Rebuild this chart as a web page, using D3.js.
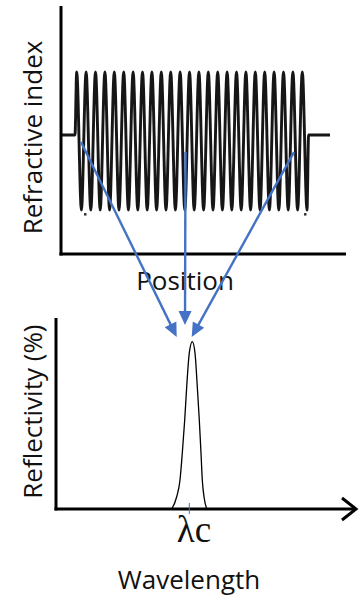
<!DOCTYPE html>
<html>
<head>
<meta charset="utf-8">
<script src="https://cdn.jsdelivr.net/npm/d3@7"></script>
<style>
  html, body { margin: 0; padding: 0; background: #fff; }
  svg { display: block; }
  text { font-family: "Open Sans", "Noto Sans", sans-serif; fill: #111; }
  text.serif { font-family: "Liberation Serif", "DejaVu Serif", serif; }
</style>
</head>
<body>
<div id="chart"></div>
<script>
// grating: turning points of the index modulation (position units, index %)
const baseLeft = [[1, 48], [14, 48]];
const peakPos = [15.7, 25.1, 34.5, 43.9, 53.3, 62.7, 72.1, 81.5, 90.9, 100.3, 109.7, 119.1, 128.5,
                 137.9, 147.3, 156.7, 166.1, 175.5, 184.9, 194.3, 203.7, 213.1, 222.5, 231.9, 241.3];
const troughPos = [20.4, 29.8, 39.2, 48.6, 58.0, 67.4, 76.8, 86.2, 95.6, 105.0, 114.4, 123.8, 133.2,
                   142.6, 152.0, 161.4, 170.8, 180.2, 189.6, 199.0, 208.4, 217.8, 227.2, 236.6, 246.0];
const indexHigh = 73.4;
const indexLow = 17.7;
const baseRight = [[247.6, 48], [269, 48]];
const endDots = [[24, 16.1], [244, 16.1]];

// reflection peak (wavelength units, reflectivity %)
const wavelength = [115.7, 120.7, 124, 126.3, 128.7, 130.7, 133.3, 136.3, 139, 141.3, 143.3, 145, 146.3, 148, 150.7];
const reflectivity = [0, 6.4, 15.2, 29.3, 46.6, 64.0, 81.7, 87.6, 81.7, 64.0, 46.6, 29.3, 15.2, 6.4, 0];
const centerWl = 133.3;

// arrows: start on the grating, end above the peak
const arrowFrom = [[20, 45.2], [124.5, 41.1], [233, 41.1]];
const arrowTo = [[120.7, 90.1], [129, 96.3], [135.7, 90.1]];

const width = 360, height = 596;
const svg = d3.select("#chart").append("svg")
    .attr("width", width)
    .attr("height", height);

const blue = "#4472c4";

svg.append("defs").append("filter").attr("id", "soft")
  .append("feGaussianBlur").attr("stdDeviation", 0.55);

// ---- top panel ----
const xTop = d3.scaleLinear().domain([0, 285]).range([61, 346]);
const yTop = d3.scaleLinear().domain([0, 100]).range([254, 6]);

const grating = baseLeft.slice();
peakPos.forEach((p, i) => {
  grating.push([p, indexHigh]);
  grating.push([troughPos[i], indexLow]);
});
baseRight.forEach(d => grating.push(d));

const gratingLine = d3.line()
    .x(d => xTop(d[0]))
    .y(d => yTop(d[1]))
    .curve(d3.curveMonotoneX);

svg.append("path")
    .datum(grating)
    .attr("d", gratingLine)
    .attr("fill", "none")
    .attr("stroke", "#161616")
    .attr("stroke-width", 2.9)
    .attr("filter", "url(#soft)");

svg.selectAll(".dot")
  .data(endDots)
  .enter().append("rect")
    .attr("x", d => xTop(d[0]) - 1)
    .attr("y", d => yTop(d[1]) - 1)
    .attr("width", 2.5).attr("height", 2.5)
    .attr("fill", "#333");

svg.append("line")
    .attr("x1", xTop(0)).attr("x2", xTop(0))
    .attr("y1", yTop(100)).attr("y2", yTop(0) + 1.5)
    .attr("stroke", "#000").attr("stroke-width", 3);
svg.append("line")
    .attr("x1", xTop(0) - 1.5).attr("x2", xTop(285))
    .attr("y1", yTop(0)).attr("y2", yTop(0))
    .attr("stroke", "#000").attr("stroke-width", 3);

svg.append("text")
    .attr("transform", "translate(42," + yTop(47) + ") rotate(-90)")
    .attr("text-anchor", "middle")
    .attr("font-size", 26)
    .text("Refractive index");

svg.append("text")
    .attr("x", 185).attr("y", 290)
    .attr("text-anchor", "middle")
    .attr("font-size", 26)
    .text("Position");

// ---- bottom panel ----
const xBot = d3.scaleLinear().domain([0, 300]).range([56, 356]);
const yBot = d3.scaleLinear().domain([0, 100]).range([509, 318]);

const peakLine = d3.line()
    .x(d => xBot(d[0]))
    .y(d => yBot(d[1]))
    .curve(d3.curveMonotoneX);

svg.append("path")
    .datum(wavelength.map((w, i) => [w, reflectivity[i]]))
    .attr("d", peakLine)
    .attr("fill", "none")
    .attr("stroke", "#000")
    .attr("stroke-width", 1.3);

svg.append("line")
    .attr("x1", xBot(0)).attr("x2", xBot(0))
    .attr("y1", yBot(100)).attr("y2", yBot(0) + 1.5)
    .attr("stroke", "#000").attr("stroke-width", 3);
svg.append("line")
    .attr("x1", xBot(0) - 1.5).attr("x2", xBot(300))
    .attr("y1", yBot(0)).attr("y2", yBot(0))
    .attr("stroke", "#000").attr("stroke-width", 3);
svg.append("path")
    .attr("d", "M" + (xBot(300) - 14) + "," + (yBot(0) - 11) +
               "L" + xBot(300) + "," + yBot(0) +
               "L" + (xBot(300) - 14) + "," + (yBot(0) + 11))
    .attr("fill", "none")
    .attr("stroke", "#000").attr("stroke-width", 3);

svg.append("line")
    .attr("x1", xBot(centerWl)).attr("x2", xBot(centerWl))
    .attr("y1", yBot(0) - 6).attr("y2", yBot(0) + 5)
    .attr("stroke", blue).attr("stroke-width", 1);

svg.append("text")
    .attr("class", "serif")
    .attr("x", 194).attr("y", 542)
    .attr("text-anchor", "middle")
    .attr("font-size", 37)
    .text("λc");

svg.append("text")
    .attr("transform", "translate(42," + yBot(51) + ") rotate(-90)")
    .attr("text-anchor", "middle")
    .attr("font-size", 26)
    .text("Reflectivity (%)");

svg.append("text")
    .attr("x", 189).attr("y", 589)
    .attr("text-anchor", "middle")
    .attr("font-size", 26)
    .text("Wavelength");

// ---- arrows ----
const arrows = arrowFrom.map((f, i) => {
  const x1 = xTop(f[0]), y1 = yTop(f[1]);
  const x2 = xBot(arrowTo[i][0]), y2 = yBot(arrowTo[i][1]);
  return { x1, y1, x2, y2, a: Math.atan2(y2 - y1, x2 - x1) };
});
const headLen = 14, headHalf = 6.5;

svg.selectAll(".arrow")
  .data(arrows)
  .enter().append("line")
    .attr("x1", d => d.x1)
    .attr("y1", d => d.y1)
    .attr("x2", d => d.x2 - headLen * 0.8 * Math.cos(d.a))
    .attr("y2", d => d.y2 - headLen * 0.8 * Math.sin(d.a))
    .attr("stroke", blue)
    .attr("stroke-width", 2.4);

svg.selectAll(".head")
  .data(arrows)
  .enter().append("path")
    .attr("d", "M0,0L" + (-headLen) + "," + (-headHalf) + "L" + (-headLen) + "," + headHalf + "Z")
    .attr("transform", d => "translate(" + d.x2 + "," + d.y2 + ") rotate(" + (d.a * 180 / Math.PI) + ")")
    .attr("fill", blue);
</script>
</body>
</html>
